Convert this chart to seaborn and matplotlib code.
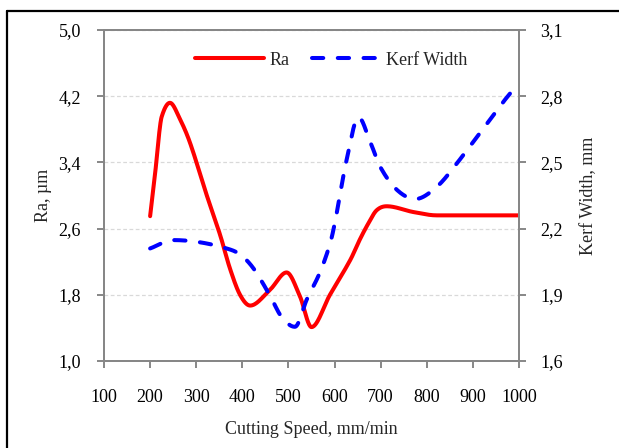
import numpy as np
import pandas as pd
import matplotlib
matplotlib.use("Agg")
import matplotlib.pyplot as plt
from matplotlib.ticker import FuncFormatter, FixedLocator
from matplotlib.lines import Line2D
import seaborn as sns

# ---- data ----
speed_ra = [200, 211, 218, 225, 243, 265, 287, 323, 352, 373, 395, 417, 460, 496, 525,
            550, 590, 634, 655, 673, 691, 713, 771, 822, 900, 1000]
ra = [2.75, 3.27, 3.67, 3.95, 4.12, 3.92, 3.63, 3.00, 2.52, 2.12, 1.80, 1.67, 1.86, 2.07, 1.78,
      1.41, 1.80, 2.22, 2.47, 2.66, 2.82, 2.87, 2.80, 2.76, 2.76, 2.76]

speed_kerf = [200, 250, 308, 366, 395, 424, 460, 485, 514, 540, 568, 590, 601, 626,
              652, 677, 699, 735, 775, 822, 865, 930, 970, 1000]
kerf = [2.11, 2.148, 2.138, 2.11, 2.083, 2.02, 1.896, 1.80, 1.755, 1.88, 2.00, 2.13, 2.23, 2.51,
        2.705, 2.595, 2.48, 2.376, 2.334, 2.39, 2.495, 2.675, 2.785, 2.86]

x_ticks = [100, 200, 300, 400, 500, 600, 700, 800, 900, 1000]
ra_ticks = [1.0, 1.8, 2.6, 3.4, 4.2, 5.0]
kerf_ticks = [1.6, 1.9, 2.2, 2.5, 2.8, 3.1]


def smooth(xs, ys, n=30):
    xs = np.asarray(xs, float)
    ys = np.asarray(ys, float)
    m = len(xs)
    d = np.zeros(m)
    for i in range(1, m - 1):
        if (ys[i] - ys[i - 1]) * (ys[i + 1] - ys[i]) <= 0:
            d[i] = 0.0
        else:
            d[i] = (ys[i + 1] - ys[i - 1]) / (xs[i + 1] - xs[i - 1])
    d[0] = (ys[1] - ys[0]) / (xs[1] - xs[0])
    d[-1] = (ys[-1] - ys[-2]) / (xs[-1] - xs[-2])
    ox, oy = [], []
    for i in range(m - 1):
        h = xs[i + 1] - xs[i]
        t = np.linspace(0, 1, n, endpoint=(i == m - 2))
        h00 = 2 * t**3 - 3 * t**2 + 1
        h10 = t**3 - 2 * t**2 + t
        h01 = -2 * t**3 + 3 * t**2
        h11 = t**3 - t**2
        ox.append(xs[i] + t * h)
        oy.append(h00 * ys[i] + h10 * h * d[i] + h01 * ys[i + 1] + h11 * h * d[i + 1])
    return np.concatenate(ox), np.concatenate(oy)


sns.set_theme(style="white")
plt.rcParams["font.family"] = ["Liberation Serif", "DejaVu Serif"]
plt.rcParams["font.size"] = 13

fig = plt.figure(figsize=(6.19, 4.48), dpi=100)
ax = fig.add_axes([104 / 619, 1 - 361 / 448, (519 - 104) / 619, (361 - 30) / 448])
ax2 = ax.twinx()

sx, sy = smooth(speed_ra, ra)
df_ra = pd.DataFrame({"speed": sx, "Ra": sy})
sns.lineplot(data=df_ra, x="speed", y="Ra", ax=ax, color="#ff0000", lw=2.9,
             estimator=None, sort=False, label="Ra", legend=False)

kx, ky = smooth(speed_kerf, kerf)
df_k = pd.DataFrame({"speed": kx, "Kerf": ky})
sns.lineplot(data=df_k, x="speed", y="Kerf", ax=ax2, color="#0000ff", lw=2.9,
             estimator=None, sort=False, label="Kerf Width", legend=False,
             linestyle=(0, (2.8, 3.6)))
for ln in ax2.get_lines():
    ln.set_dash_capstyle("round")
for ln in ax.get_lines():
    ln.set_solid_capstyle("round")

ax.set_xlim(100, 1000)
ax.set_ylim(1.0, 5.0)
ax2.set_ylim(1.6, 3.1)
ax.xaxis.set_major_locator(FixedLocator(x_ticks))
ax.yaxis.set_major_locator(FixedLocator(ra_ticks))
ax2.yaxis.set_major_locator(FixedLocator(kerf_ticks))
fmt = FuncFormatter(lambda v, p: f"{v:.1f}".replace(".", ","))
ax.yaxis.set_major_formatter(fmt)
ax2.yaxis.set_major_formatter(fmt)

spine_c = "#878787"
for a in (ax, ax2):
    for s in a.spines.values():
        s.set_color(spine_c)
        s.set_linewidth(1.4)
        s.set_visible(True)

ax.tick_params(axis="y", direction="out", length=5, width=1.4, color=spine_c,
               labelsize=13, pad=11.5, left=True, labelcolor="black")
ax.tick_params(axis="x", direction="out", length=5, width=1.4, color=spine_c,
               labelsize=13, pad=15, bottom=True, labelcolor="black")
ax2.tick_params(axis="y", direction="out", length=5, width=1.4, color=spine_c,
                labelsize=13, pad=10.5, right=True, labelcolor="black")

ax.yaxis.grid(True, color="#d9d9d9", lw=0.9, linestyle=(0, (3, 2)))
ax.xaxis.grid(False)
ax2.grid(False)
ax.set_axisbelow(True)

ax.set_xlabel("Cutting Speed, mm/min", fontsize=13, labelpad=11)
ax.set_ylabel("Ra, µm", fontsize=13, labelpad=4.5)
ax2.set_ylabel("Kerf Width, mm", fontsize=13, labelpad=12)

h1, l1 = ax.get_legend_handles_labels()
h2, l2 = ax2.get_legend_handles_labels()
leg = ax2.legend(h1 + h2, l1 + l2, loc="center", bbox_to_anchor=(0.548, 0.909),
                 ncol=2, frameon=False, handlelength=3.8, handletextpad=0.33,
                 columnspacing=1.2, fontsize=13)

# outer border of the reference image (left and top)
fig.add_artist(Line2D([7 / 619, 7 / 619], [0, 1 - 11 / 448], color="black", lw=1.6,
                      transform=fig.transFigure))
fig.add_artist(Line2D([7 / 619, 1], [1 - 11 / 448, 1 - 11 / 448], color="black", lw=1.6,
                      transform=fig.transFigure))

fig.savefig("out.png", dpi=100, facecolor="white")
